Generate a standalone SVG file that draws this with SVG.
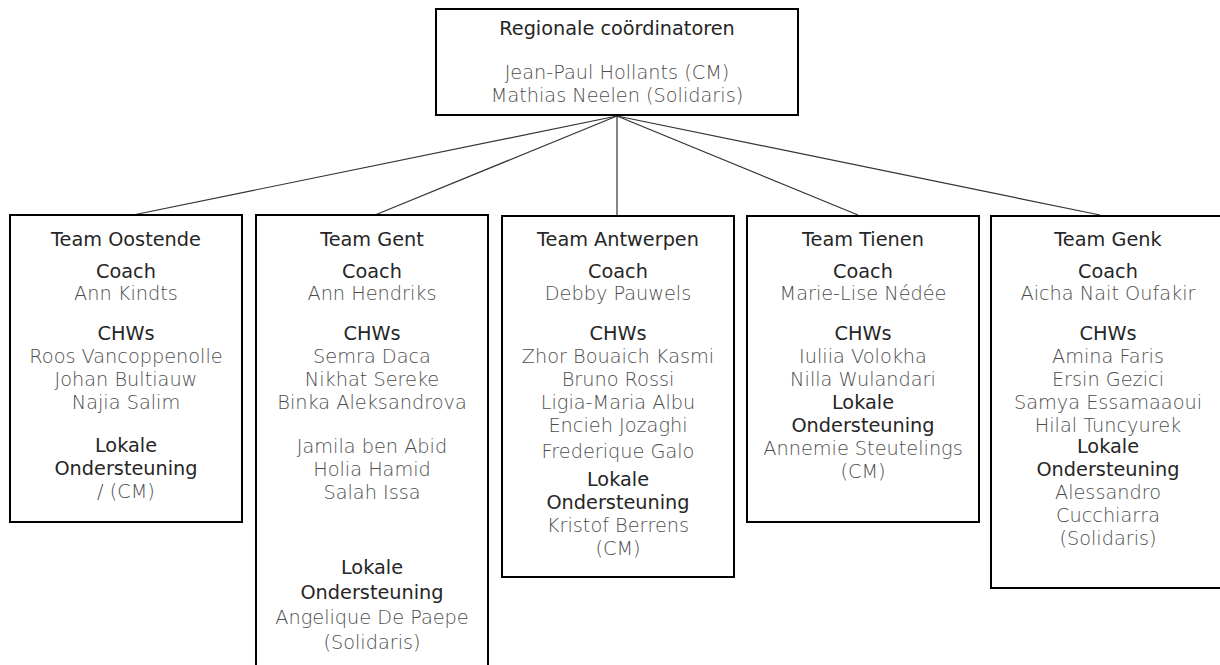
<svg xmlns="http://www.w3.org/2000/svg" width="1220" height="665" viewBox="0 0 1220 665">
<style>
.box{fill:#fff;stroke:#000;stroke-width:2}
.con line{stroke:#333;stroke-width:1.2}
text{font-family:"DejaVu Sans","Liberation Sans",sans-serif;font-size:19.3px;text-anchor:middle}
.h{fill:#262626;font-weight:400}
.n{fill:#4d4d4d;font-weight:200}
</style>
<rect width="1220" height="665" fill="#fff"/>
<g id="connectors" class="con">
<line x1="617" y1="116" x2="133" y2="215"/>
<line x1="617" y1="116" x2="375" y2="215"/>
<line x1="617" y1="116" x2="617" y2="215"/>
<line x1="617" y1="116" x2="858" y2="215"/>
<line x1="617" y1="116" x2="1100" y2="215"/>
</g>
<g id="regionale">
<rect class="box" x="436" y="9" width="362" height="106"/>
<text class="h" x="617" y="35">Regionale coördinatoren</text>
<text class="n" x="617" y="79">Jean-Paul Hollants (CM)</text>
<text class="n" x="617" y="102">Mathias Neelen (Solidaris)</text>
</g>
<g id="oostende">
<rect class="box" x="10" y="215" width="232" height="307"/>
<text class="h" x="126" y="246">Team Oostende</text>
<text class="h" x="126" y="278">Coach</text>
<text class="n" x="126" y="300">Ann Kindts</text>
<text class="h" x="126" y="340">CHWs</text>
<text class="n" x="126" y="363">Roos Vancoppenolle</text>
<text class="n" x="126" y="386">Johan Bultiauw</text>
<text class="n" x="126" y="409">Najia Salim</text>
<text class="h" x="126" y="452">Lokale</text>
<text class="h" x="126" y="475">Ondersteuning</text>
<text class="n" x="126" y="498">/ (CM)</text>
</g>
<g id="gent">
<path d="M256 666 V215 H488 V666" fill="#fff" stroke="#000" stroke-width="2"/>
<text class="h" x="372" y="246">Team Gent</text>
<text class="h" x="372" y="278">Coach</text>
<text class="n" x="372" y="300">Ann Hendriks</text>
<text class="h" x="372" y="340">CHWs</text>
<text class="n" x="372" y="363">Semra Daca</text>
<text class="n" x="372" y="386">Nikhat Sereke</text>
<text class="n" x="372" y="409">Binka Aleksandrova</text>
<text class="n" x="372" y="453">Jamila ben Abid</text>
<text class="n" x="372" y="476">Holia Hamid</text>
<text class="n" x="372" y="499">Salah Issa</text>
<text class="h" x="372" y="574">Lokale</text>
<text class="h" x="372" y="599">Ondersteuning</text>
<text class="n" x="372" y="624">Angelique De Paepe</text>
<text class="n" x="372" y="649">(Solidaris)</text>
</g>
<g id="antwerpen">
<rect class="box" x="502" y="216" width="232" height="361"/>
<text class="h" x="618" y="246">Team Antwerpen</text>
<text class="h" x="618" y="278">Coach</text>
<text class="n" x="618" y="300">Debby Pauwels</text>
<text class="h" x="618" y="340">CHWs</text>
<text class="n" x="618" y="363">Zhor Bouaich Kasmi</text>
<text class="n" x="618" y="386">Bruno Rossi</text>
<text class="n" x="618" y="409">Ligia-Maria Albu</text>
<text class="n" x="618" y="432">Encieh Jozaghi</text>
<text class="n" x="618" y="458">Frederique Galo</text>
<text class="h" x="618" y="486">Lokale</text>
<text class="h" x="618" y="509">Ondersteuning</text>
<text class="n" x="618" y="532">Kristof Berrens</text>
<text class="n" x="618" y="555">(CM)</text>
</g>
<g id="tienen">
<rect class="box" x="747" y="216" width="232" height="306"/>
<text class="h" x="863" y="246">Team Tienen</text>
<text class="h" x="863" y="278">Coach</text>
<text class="n" x="863" y="300">Marie-Lise Nédée</text>
<text class="h" x="863" y="340">CHWs</text>
<text class="n" x="863" y="363">Iuliia Volokha</text>
<text class="n" x="863" y="386">Nilla Wulandari</text>
<text class="h" x="863" y="409">Lokale</text>
<text class="h" x="863" y="432">Ondersteuning</text>
<text class="n" x="863" y="455">Annemie Steutelings</text>
<text class="n" x="863" y="478">(CM)</text>
</g>
<g id="genk">
<path d="M1222 216 H991 V588 H1222" fill="#fff" stroke="#000" stroke-width="2"/>
<text class="h" x="1108" y="246">Team Genk</text>
<text class="h" x="1108" y="278">Coach</text>
<text class="n" x="1108" y="300">Aicha Nait Oufakir</text>
<text class="h" x="1108" y="340">CHWs</text>
<text class="n" x="1108" y="363">Amina Faris</text>
<text class="n" x="1108" y="386">Ersin Gezici</text>
<text class="n" x="1108" y="409">Samya Essamaaoui</text>
<text class="n" x="1108" y="432">Hilal Tuncyurek</text>
<text class="h" x="1108" y="453">Lokale</text>
<text class="h" x="1108" y="476">Ondersteuning</text>
<text class="n" x="1108" y="499">Alessandro</text>
<text class="n" x="1108" y="522">Cucchiarra</text>
<text class="n" x="1108" y="545">(Solidaris)</text>
</g>
</svg>
